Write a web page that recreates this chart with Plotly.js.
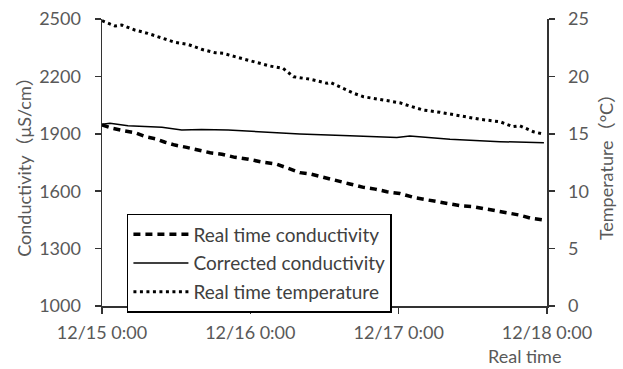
<!DOCTYPE html>
<html>
<head>
<meta charset="utf-8">
<script src="https://cdn.plot.ly/plotly-3.0.1.min.js"></script>
<style>html,body{margin:0;padding:0;background:#fff;}#chart{width:623px;height:369px;}</style>
</head>
<body>
<div id="chart"></div>
<script>
// Hours after 12/15 0:00 and values
var baseTime = '2019-12-15T00:00:00';
var condHours = [0, 1.6, 3.7, 5.3, 7.0, 8.8, 10.2, 11.8, 13.7, 15.6, 17.5, 19.4, 21.5, 23.7, 26.1, 28.3, 30.1, 32.0, 33.7, 35.3, 36.4, 38.2, 40.1, 42.3, 44.2, 46.1, 48.2, 50.6, 52.8, 54.7, 56.3, 58.2, 60.1, 62.1, 63.6, 65.5, 67.4, 69.5, 71.5];
var condValues = [1946, 1929, 1915, 1906, 1885, 1873, 1856, 1841, 1829, 1815, 1801, 1793, 1777, 1767, 1751, 1741, 1720, 1697, 1690, 1676, 1667, 1655, 1638, 1620, 1611, 1597, 1588, 1566, 1554, 1542, 1533, 1523, 1519, 1507, 1498, 1490, 1476, 1458, 1449];
var corrHours = [0, 1.3, 4.2, 9.7, 12.9, 16.1, 20.4, 24.2, 32.0, 40.1, 47.7, 49.8, 56.3, 64.4, 71.5];
var corrValues = [1950, 1955, 1942, 1934, 1920, 1923, 1920, 1913, 1899, 1890, 1881, 1888, 1871, 1859, 1853];
var tempHours = [0, 2.1, 3.2, 5.3, 7.4, 9.7, 11.8, 13.9, 16.1, 18.3, 19.6, 21.5, 24.2, 27.2, 29.3, 31.0, 33.7, 36.4, 36.9, 39.0, 40.7, 42.3, 45.5, 48.2, 49.6, 52.0, 54.7, 57.9, 61.2, 64.4, 66.5, 67.6, 69.8, 71.5];
var tempValues = [24.85, 24.39, 24.48, 24.04, 23.75, 23.32, 22.97, 22.79, 22.36, 22.06, 22.01, 21.72, 21.34, 20.9, 20.7, 19.97, 19.75, 19.4, 19.48, 18.96, 18.53, 18.23, 17.94, 17.7, 17.45, 17.07, 16.87, 16.58, 16.26, 16.05, 15.62, 15.7, 15.18, 14.96];
var seriesNames = ['Real time conductivity', 'Corrected conductivity', 'Real time temperature'];
var xRange = ['2019-12-15 00:00', '2019-12-18 00:00'];

function toDates(hours) {
  var b = new Date(baseTime + 'Z').getTime();
  return hours.map(function (h) {
    var d = new Date(b + h * 3600000);
    return d.toISOString().slice(0, 19).replace('T', ' ');
  });
}

var font = 'Lato, "Noto Sans CJK SC", sans-serif';
var grey = '#595959';

var traces = [
  {x: toDates(condHours), y: condValues, name: seriesNames[0], mode: 'lines', legendgroup: 'a',
   line: {color: '#000', width: 3.5, dash: '7px,5px'}},
  {x: toDates(corrHours), y: corrValues, name: seriesNames[1], mode: 'lines', legendgroup: 'b',
   line: {color: '#000', width: 1.5}},
  {x: toDates(tempHours), y: tempValues, name: seriesNames[2], mode: 'lines', yaxis: 'y2', legendgroup: 'c',
   line: {color: '#000', width: 3, dash: '3px,3.5px'}}
];

var layout = {
  width: 623, height: 369,
  margin: {l: 102, r: 76, t: 19, b: 63},
  paper_bgcolor: '#fff', plot_bgcolor: '#fff',
  font: {family: font, size: 18, color: grey},
  showlegend: true,
  legend: {x: 0.056, y: 0.3206, xanchor: 'left', yanchor: 'top',
    bgcolor: '#fff', bordercolor: '#000', borderwidth: 1.5,
    font: {family: font, size: 19, color: '#404040'},
    traceorder: 'grouped', tracegroupgap: 1, itemwidth: 55},
  xaxis: {type: 'date', range: xRange, dtick: 86400000, tickformat: '%m/%d %-H:%M',
    showgrid: false, zeroline: false, showline: true, linecolor: '#333', linewidth: 1.5,
    ticks: 'outside', ticklen: 6, tickcolor: '#333', tickwidth: 1.5, ticklabelstandoff: 4,
    tickfont: {family: font, size: 18, color: grey}},
  yaxis: {range: [1000, 2500], tick0: 1000, dtick: 300, showgrid: false, zeroline: false,
    showline: true, linecolor: '#333', linewidth: 1.5,
    ticks: 'outside', ticklen: 6, tickcolor: '#333', tickwidth: 1.5, ticklabelstandoff: 10,
    tickfont: {family: font, size: 18, color: grey},
    title: {text: 'Conductivity（μS/cm）', font: {family: font, size: 18, color: grey}, standoff: 3}},
  yaxis2: {range: [0, 25], tick0: 0, dtick: 5, overlaying: 'y', side: 'right', showgrid: false, zeroline: false,
    showline: true, linecolor: '#333', linewidth: 1.5,
    ticks: 'outside', ticklen: 6, tickcolor: '#333', tickwidth: 1.5, ticklabelstandoff: 10,
    tickfont: {family: font, size: 18, color: grey},
    title: {text: 'Temperature（°C）', font: {family: font, size: 18, color: grey}, standoff: 12}},
  annotations: [{text: 'Real time', xref: 'paper', yref: 'paper', x: 0.95, y: -0.13,
    xanchor: 'center', yanchor: 'top', showarrow: false,
    font: {family: font, size: 18, color: grey}}]
};

Plotly.newPlot('chart', traces, layout, {displayModeBar: false, staticPlot: true});
</script>
</body>
</html>
